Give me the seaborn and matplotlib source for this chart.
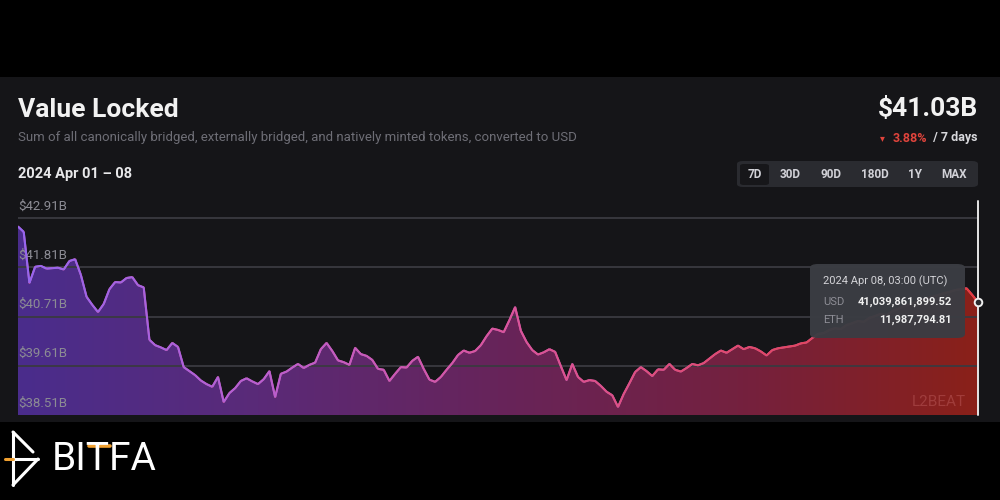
import numpy as np
import pandas as pd
import matplotlib
matplotlib.use("Agg")
import matplotlib.pyplot as plt
import seaborn as sns
from matplotlib.collections import LineCollection
from matplotlib.colors import LinearSegmentedColormap
from matplotlib.patches import FancyBboxPatch
from matplotlib.lines import Line2D
from matplotlib.transforms import ScaledTranslation

# ---- data: hourly value locked (USD billions), 2024 Apr 01 03:00 -> Apr 08 03:00
day1 = [42.72, 42.60, 41.46, 41.82, 41.84, 41.78, 41.79, 41.80, 41.76, 41.95, 41.99, 41.64,
        41.15, 40.97, 40.81, 40.99, 41.32, 41.48, 41.47, 41.57, 41.59, 41.41, 41.36, 40.19]
day2 = [40.07, 40.02, 39.96, 40.12, 40.03, 39.58, 39.49, 39.40, 39.28, 39.20, 39.14, 39.36,
        38.80, 39.00, 39.11, 39.27, 39.33, 39.26, 39.20, 39.31, 39.49, 38.91, 39.43, 39.48]
day3 = [39.57, 39.65, 39.56, 39.63, 39.68, 39.98, 40.12, 39.94, 39.73, 39.69, 39.63, 40.01,
        39.87, 39.83, 39.74, 39.54, 39.52, 39.27, 39.43, 39.58, 39.57, 39.72, 39.81, 39.54]
day4 = [39.30, 39.25, 39.36, 39.52, 39.67, 39.85, 39.95, 39.90, 39.94, 40.07, 40.27, 40.44,
        40.41, 40.36, 40.63, 40.92, 40.39, 40.14, 39.96, 39.86, 39.91, 39.98, 39.92, 39.60]
day5 = [39.29, 39.65, 39.36, 39.25, 39.29, 39.27, 39.16, 39.03, 38.95, 38.69, 38.98, 39.22,
        39.47, 39.58, 39.49, 39.38, 39.53, 39.52, 39.65, 39.52, 39.48, 39.56, 39.65, 39.62]
day6 = [39.67, 39.77, 39.87, 39.95, 39.90, 39.98, 40.06, 39.98, 40.03, 40.00, 39.93, 39.84,
        39.96, 40.00, 40.02, 40.04, 40.06, 40.11, 40.13, 40.23, 40.32, 40.34, 40.41, 40.45]
day7 = [40.43, 40.52, 40.56, 40.61, 40.59, 40.68, 40.72, 40.77, 40.74, 40.83, 40.88, 40.94,
        40.97, 41.03, 41.08, 41.10, 41.15, 41.19, 41.23, 41.26, 41.30, 41.32, 41.34, 41.19, 41.03]

tick_values = [38.51, 39.61, 40.71, 41.81, 42.91]
tick_labels = ["$38.51B", "$39.61B", "$40.71B", "$41.81B", "$42.91B"]
range_buttons = ["7D", "30D", "90D", "180D", "1Y", "MAX"]

values = np.array(day1 + day2 + day3 + day4 + day5 + day6 + day7)
hours = np.arange(len(values))
df = pd.DataFrame({"hour": hours, "value": values})

# ---- style
sns.set_theme(style="dark")
plt.rcParams["font.family"] = ["Roboto", "DejaVu Sans"]

BG = "#000000"
PANEL = "#151518"

fig = plt.figure(figsize=(10, 5), dpi=100, facecolor=BG)

def fx(px):
    return px / 1000.0

def fy(py):
    return 1 - py / 500.0

# panel
fig.patches.append(plt.Rectangle((0, fy(422)), 1, fy(77) - fy(422), transform=fig.transFigure,
                                 facecolor=PANEL, edgecolor="none", zorder=-5))

ymin, ymax = 38.51, 43.29
ax = fig.add_axes([fx(18), fy(415), fx(960), fy(201) - fy(415)])
ax.set_zorder(1)
ax.set_facecolor(PANEL)
ax.patch.set_alpha(0)

# gradient fill under the curve
fill_cmap = LinearSegmentedColormap.from_list(
    "fill", ["#4a2d8c", "#5a2a78", "#67245a", "#74213f", "#8a2019"])
poly = ax.fill_between(df["hour"], df["value"], ymin, color="none", lw=0)
grad = np.linspace(0, 1, 512).reshape(1, -1)
im = ax.imshow(grad, extent=[hours[0], hours[-1], ymin, ymax], aspect="auto",
               cmap=fill_cmap, origin="lower", zorder=1, interpolation="bicubic")
im.set_clip_path(poly.get_paths()[0], transform=ax.transData)

# line (seaborn), then gradient colour overlay
sns.lineplot(data=df, x="hour", y="value", ax=ax, color="#c85aa8", lw=1.4, zorder=2)
line_cmap = LinearSegmentedColormap.from_list(
    "line", ["#9466f0", "#b85fd0", "#d9559e", "#e04a6e", "#e83c3c"])
pts = np.column_stack([hours, values]).reshape(-1, 1, 2)
segs = np.concatenate([pts[:-1], pts[1:]], axis=1)
lc = LineCollection(segs, cmap=line_cmap, linewidths=1.5, zorder=3)
lc.set_array(hours[:-1] / hours[-1])
ax.add_collection(lc)

ax.set_xlim(hours[0], hours[-1])
ax.set_ylim(ymin, ymax)

# grid + tick labels
for v in tick_values[1:]:
    ax.axhline(v, color="#3a3a40", lw=1.3, zorder=1.5)
ax.set_yticks(tick_values, tick_labels)
ax.tick_params(axis="y", length=0, pad=0, labelsize=9.5, labelcolor="#8c8c94")
ax.grid(False)
off = ScaledTranslation(0, 4 / 72, fig.dpi_scale_trans)
for lab in ax.get_yticklabels():
    lab.set_ha("left")
    lab.set_va("bottom")
    lab.set_transform(lab.get_transform() + off)
    lab.set_zorder(6)
ax.set_axisbelow(False)
ax.set_xticks([])
ax.set_xlabel("")
ax.set_ylabel("")
for s in ax.spines.values():
    s.set_visible(False)

# cursor line + marker on the last point
ax.axvline(hours[-1], ymin=0, ymax=1, color="#e6e6e6", lw=1.4, zorder=4, clip_on=False)
ax.scatter([hours[-1]], [values[-1]], s=30, facecolor="#2a2a2e", edgecolor="#f0f0f0",
           linewidth=1.4, zorder=7, clip_on=False)

# watermark
ax.text(0.987, 0.06, "L2BEAT", transform=ax.transAxes, ha="right", va="center",
        fontsize=11, color="#c06060", alpha=0.45, zorder=5)

# tooltip
tip = FancyBboxPatch((fx(810), fy(338)), fx(155), fy(264) - fy(338),
                     boxstyle="round,pad=0,rounding_size=0.008", transform=fig.transFigure,
                     facecolor="#3b3d43", edgecolor="none", alpha=0.97, zorder=10)
fig.patches.append(tip)
fig.text(fx(823), fy(281), "2024 Apr 08, 03:00 (UTC)", ha="left", va="center",
         fontsize=8, color="#d4d4d8", zorder=11)
fig.text(fx(823), fy(302), "USD", ha="left", va="center", fontsize=8, color="#8e8e96", zorder=11)
fig.text(fx(952), fy(302), "41,039,861,899.52", ha="right", va="center", fontsize=8,
         fontweight="bold", color="#f0f0f0", zorder=11)
fig.text(fx(823), fy(320), "ETH", ha="left", va="center", fontsize=8, color="#8e8e96", zorder=11)
fig.text(fx(952), fy(320), "11,987,794.81", ha="right", va="center", fontsize=8,
         fontweight="bold", color="#f0f0f0", zorder=11)

# header
fig.text(fx(18), fy(110), "Value Locked", ha="left", va="center", fontsize=19,
         fontweight="bold", color="#f2f2f2")
fig.text(fx(18), fy(138), "Sum of all canonically bridged, externally bridged, and natively minted tokens, converted to USD",
         ha="left", va="center", fontsize=9.5, color="#6e6e76")
fig.text(fx(18), fy(174), "2024 Apr 01 \u2013 08", ha="left", va="center", fontsize=10.5,
         fontweight="bold", color="#e8e8ea")
fig.text(fx(978), fy(109), "$41.03B", ha="right", va="center", fontsize=19,
         fontweight="bold", color="#f2f2f2")
fig.text(fx(978), fy(138), " / 7 days", ha="right", va="center", fontsize=9,
         fontweight="bold", color="#d8d8dc")
fig.text(fx(927), fy(138), "3.88%", ha="right", va="center", fontsize=9,
         fontweight="bold", color="#e0443c")
fig.text(fx(880), fy(138), "\u25BE", ha="left", va="center", fontsize=7,
         color="#e0443c", family=["DejaVu Sans"])

# range buttons
fig.patches.append(FancyBboxPatch((fx(737), fy(187)), fx(241), fy(161) - fy(187),
                                  boxstyle="round,pad=0,rounding_size=0.006", transform=fig.transFigure,
                                  facecolor="#2a2b30", edgecolor="none", zorder=1))
fig.patches.append(FancyBboxPatch((fx(740), fy(185)), fx(29), fy(164) - fy(185),
                                  boxstyle="round,pad=0,rounding_size=0.004", transform=fig.transFigure,
                                  facecolor="#17171a", edgecolor="none", zorder=2))
btn_x = [755, 790, 831, 875, 915, 954]
for lab, bx in zip(range_buttons, btn_x):
    fig.text(fx(bx), fy(174), lab, ha="center", va="center", fontsize=8.5,
             fontweight="bold", color="#d2d2d8", zorder=3)

# footer logo
fig.text(fx(52), fy(460), "BITFA", ha="left", va="center", fontsize=28,
         color="#ffffff", family=["Roboto", "DejaVu Sans"])
logo = [((13, 432), (13, 485)), ((13, 432), (33, 452)), ((13, 459), (38, 459)),
        ((38, 459), (13, 485))]
for (a, b) in logo:
    fig.add_artist(Line2D([fx(a[0]), fx(b[0])], [fy(a[1]), fy(b[1])], transform=fig.transFigure,
                          color="white", lw=2.2, solid_capstyle="round"))
fig.add_artist(Line2D([fx(5), fx(13)], [fy(459), fy(459)], transform=fig.transFigure,
                      color="#f0a030", lw=2.2))
fig.add_artist(Line2D([fx(89), fx(110)], [fy(446), fy(446)], transform=fig.transFigure,
                      color="#f0a030", lw=2.6))

fig.savefig("out.png", dpi=100, facecolor=BG)
